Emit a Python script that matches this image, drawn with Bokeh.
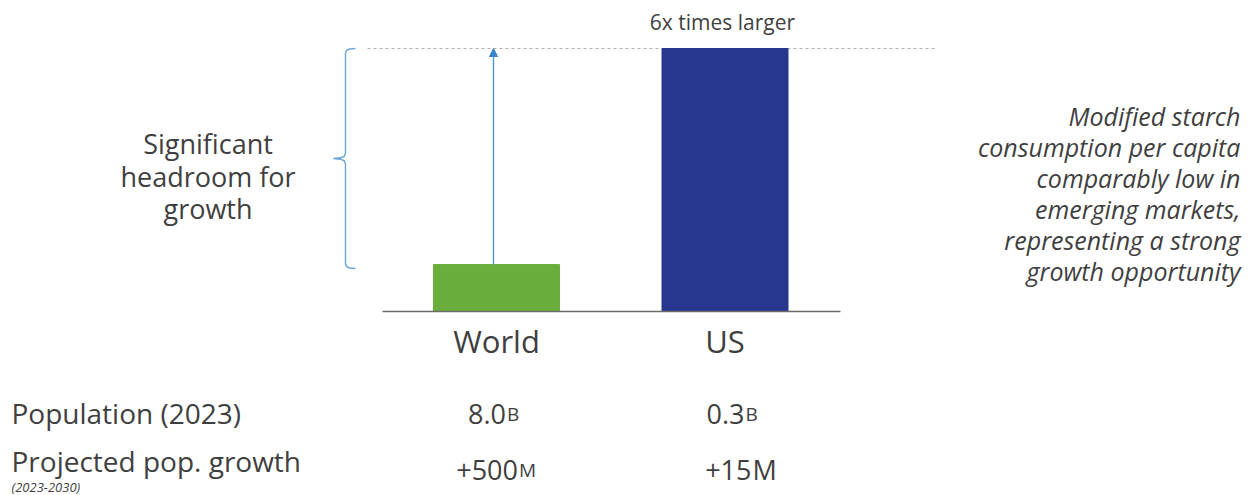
from bokeh.plotting import figure
from bokeh.models import Range1d, Arrow, NormalHead, ColumnDataSource
from bokeh.core.properties import value
from bokeh.embed import file_html
from bokeh.resources import INLINE

# ---- data ----
categories = ["World", "US"]
consumption_index = [1.0, 5.6]          # modified starch consumption per capita (World = 1)
bar_colors = ["#6aaf3d", "#27378f"]
population_main = ["8.0", "0.3"]
population_unit = ["B", "B"]
growth_main = ["+500", "+15"]
growth_unit = ["M", "M"]
growth_unit_small = [True, False]
row_labels = ["Population (2023)", "Projected pop. growth"]
row_note = "(2023-2030)"
top_note = "6x times larger"
left_note = ["Significant", "headroom for", "growth"]
right_note = ["Modified starch", "consumption per capita", "comparably low in",
              "emerging markets,", "representing a strong", "growth opportunity"]

W, H = 1258, 495
# layout scaling (pixel geometry)
X0_PX, DX_PX = 496.0, 228.5
BASE_PX = 311.0
PX_PER_UNIT = 263.0 / max(consumption_index)

def X(px):
    return (px - X0_PX) / DX_PX

def Y(py):
    return (BASE_PX - py) / PX_PER_UNIT

p = figure(width=W, height=H, output_backend="svg", toolbar_location=None,
           x_range=Range1d(X(0), X(W)), y_range=Range1d(Y(H), Y(0)),
           min_border=0, min_border_left=0, min_border_right=0,
           min_border_top=0, min_border_bottom=0)
p.axis.visible = False
p.grid.visible = False
p.outline_line_color = None
p.background_fill_color = "white"
p.border_fill_color = "white"

xs = list(range(len(categories)))
src = ColumnDataSource(dict(x=xs, top=consumption_index, color=bar_colors, cat=categories))

# dotted reference line at US level
top_val = max(consumption_index)
p.line([X(367), X(935)], [top_val, top_val], line_color="#b0b0b0", line_width=1.1, line_dash="3 3")

# bars
bw = 126.0 / DX_PX
p.vbar(x="x", top="top", bottom=0, width=bw, color="color", source=src)

# baseline
p.line([X(382), X(840)], [0, 0], line_color="#6b6b6b", line_width=1.5)

# arrow from World bar up to US level
p.add_layout(Arrow(end=NormalHead(size=8, fill_color="#3a86cc", line_color="#3a86cc"),
                   x_start=X(493), y_start=consumption_index[0],
                   x_end=X(493), y_end=top_val,
                   line_color="#4a90d2", line_width=1.3))

# curly bracket
bx = [355, 349, 346, 345, 345, 344, 340, 333, 340, 344, 345, 345, 346, 349, 355]
by = [48, 48.5, 50, 53, 152, 155.5, 157.3, 158, 158.7, 160.5, 164, 263, 266, 267.5, 268]
p.line([X(v) for v in bx], [Y(v) for v in by], line_color="#6aa6dc", line_width=1.4)

TXT = "#3f3f3f"
F = value("Open Sans")

# category labels
p.text(x="x", y=Y(340), text="cat", source=src, text_font=F, text_font_size="31px",
       text_color=TXT, text_align="center", text_baseline="middle")

# top note
p.text(x=[X(722)], y=[Y(21)], text=[top_note], text_font=F, text_font_size="21px",
       text_color=TXT, text_align="center", text_baseline="middle")

# left note
for i, t in enumerate(left_note):
    p.text(x=[X(207.5)], y=[Y(143 + 32.5 * i)], text=[t], text_font=F, text_font_size="27px",
           text_color=TXT, text_align="center", text_baseline="middle")

# right note
for i, t in enumerate(right_note):
    p.text(x=[X(1240)], y=[Y(115 + 31 * i)], text=[t], text_font=F, text_font_size="25px",
           text_font_style="italic", text_color=TXT, text_align="right", text_baseline="middle")

# table rows
p.text(x=[X(11)], y=[Y(412)], text=[row_labels[0]], text_font=F, text_font_size="28px",
       text_color=TXT, text_align="left", text_baseline="middle")
p.text(x=[X(11)], y=[Y(460)], text=[row_labels[1]], text_font=F, text_font_size="28px",
       text_color=TXT, text_align="left", text_baseline="middle")
p.text(x=[X(11)], y=[Y(486)], text=[row_note], text_font=F, text_font_size="13px",
       text_font_style="italic", text_color=TXT, text_align="left", text_baseline="middle")

# split point (pixels right of each bar centre) between number and unit
pop_split = [9.5, 19.5]
growth_split = [21.5, 26.5]
for i in xs:
    xs_p = i + pop_split[i] / DX_PX
    p.text(x=[xs_p], y=[Y(413)], text=[population_main[i]],
           text_font=F, text_font_size="27px", text_color=TXT, text_align="right",
           text_baseline="alphabetic")
    p.text(x=[xs_p + 1.0 / DX_PX], y=[Y(413)], text=[population_unit[i]],
           text_font=F, text_font_size="19px", text_color=TXT, text_align="left",
           text_baseline="alphabetic")
for i in xs:
    small = growth_unit_small[i]
    xs_g = i + growth_split[i] / DX_PX
    p.text(x=[xs_g], y=[Y(469)], text=[growth_main[i]],
           text_font=F, text_font_size="27px", text_color=TXT, text_align="right",
           text_baseline="alphabetic")
    p.text(x=[xs_g + 1.0 / DX_PX], y=[Y(469)], text=[growth_unit[i]],
           text_font=F, text_font_size="19px" if small else "27px", text_color=TXT,
           text_align="left", text_baseline="alphabetic")

open("out.html", "w").write(file_html(p, INLINE))
